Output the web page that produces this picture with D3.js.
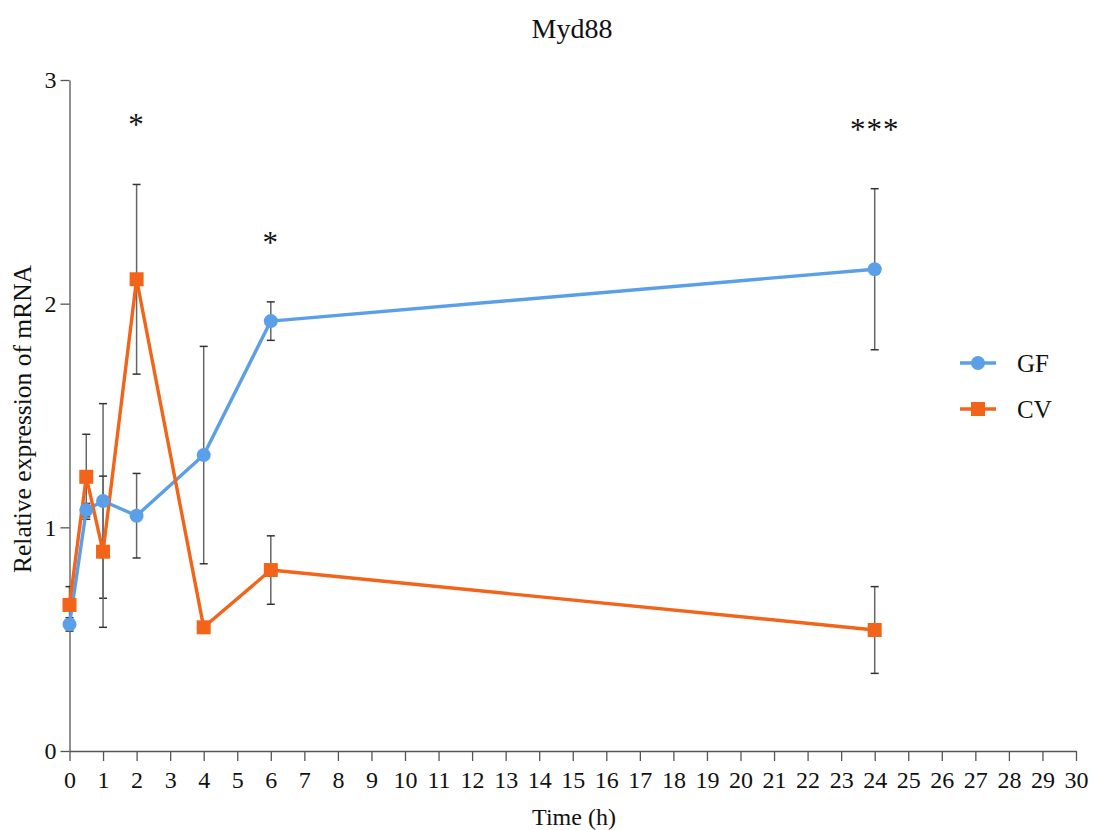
<!DOCTYPE html>
<html>
<head>
<meta charset="utf-8">
<script src="https://cdn.jsdelivr.net/npm/d3@7"></script>
<style>
  html, body { margin: 0; padding: 0; background: #fff; }
  svg text { font-family: "Liberation Serif", "DejaVu Serif", serif; }
</style>
</head>
<body>
<svg id="chart" width="1094" height="830"></svg>
<script>
// Sampling times (h)
const times = [0, 0.5, 1, 2, 4, 6, 24];

// Myd88 relative mRNA expression, mean and SD per group
const gfMean = [0.566, 1.077, 1.118, 1.052, 1.323, 1.922, 2.154];
const gfSD   = [0.03, 0.03, 0.435, 0.189, 0.486, 0.086, 0.36];
const cvMean = [0.653, 1.226, 0.891, 2.109, 0.553, 0.809, 0.541];
const cvSD   = [0.082, 0.19, 0.338, 0.424, 0.02, 0.153, 0.194];

// Significance marks between groups
const sigTimes  = [2, 6, 24];
const sigLabels = ["*", "*", "***"];

// Axis ticks
const xTicks = d3.range(0, 31);
const yTicks = [0, 1, 2, 3];

const seriesNames  = ["GF", "CV"];
const seriesColors = ["#5b9fe8", "#f26419"];

const FONT = '"Liberation Serif", "DejaVu Serif", serif';

const svg = d3.select("#chart");
const x = d3.scaleLinear().domain([0, 30]).range([69.5, 1076]);
const y = d3.scaleLinear().domain([0, 3]).range([751, 80]);

const series = [
  { name: seriesNames[0], color: seriesColors[0], shape: "circle",
    pts: times.map((t, i) => ({ t, m: gfMean[i], sd: gfSD[i] })) },
  { name: seriesNames[1], color: seriesColors[1], shape: "square",
    pts: times.map((t, i) => ({ t, m: cvMean[i], sd: cvSD[i] })) }
];

// Axes
const xAxis = svg.append("g")
  .attr("transform", `translate(0,${y(0)})`)
  .call(d3.axisBottom(x).tickValues(xTicks).tickSize(10).tickSizeOuter(0));
xAxis.selectAll("text").attr("y", 37).attr("dy", 0);

const yAxis = svg.append("g")
  .attr("transform", `translate(${x(0)},0)`)
  .call(d3.axisLeft(y).tickValues(yTicks).tickFormat(d3.format("d")).tickSize(9).tickSizeOuter(0).tickPadding(4));

[xAxis, yAxis].forEach(a => {
  a.attr("font-family", FONT).attr("font-size", 24);
  a.selectAll("text").attr("fill", "#111").style("font-family", FONT).style("font-size", "24px");
  a.select(".domain").attr("stroke", "#555").attr("stroke-width", 1.3);
  a.selectAll(".tick line").attr("stroke", "#555").attr("stroke-width", 1.3);
});

// Error bars
const cap = 4;
series.forEach(s => {
  const g = svg.append("g").attr("stroke", "#666").attr("stroke-width", 1.5).attr("fill", "none");
  s.pts.forEach(p => {
    const x0 = x(p.t), yt = y(p.m + p.sd), yb = y(p.m - p.sd);
    g.append("line").attr("x1", x0).attr("x2", x0).attr("y1", yt).attr("y2", yb);
    g.append("line").attr("x1", x0 - cap).attr("x2", x0 + cap).attr("y1", yt).attr("y2", yt).attr("stroke", "#333");
    g.append("line").attr("x1", x0 - cap).attr("x2", x0 + cap).attr("y1", yb).attr("y2", yb).attr("stroke", "#333");
  });
});

// Lines and markers
const line = d3.line().x(d => x(d.t)).y(d => y(d.m));
series.forEach(s => {
  svg.append("path").datum(s.pts)
    .attr("d", line).attr("fill", "none")
    .attr("stroke", s.color).attr("stroke-width", 3.4).attr("stroke-linejoin", "round");
});
series.forEach(s => {
  const g = svg.append("g").attr("fill", s.color);
  s.pts.forEach(p => {
    if (s.shape === "circle") {
      g.append("circle").attr("cx", x(p.t)).attr("cy", y(p.m)).attr("r", 7);
    } else {
      g.append("rect").attr("x", x(p.t) - 7).attr("y", y(p.m) - 7).attr("width", 14).attr("height", 14);
    }
  });
});

// Significance asterisks above the highest error bar
sigTimes.forEach((t, i) => {
  const i0 = times.indexOf(t);
  const top = Math.max(gfMean[i0] + gfSD[i0], cvMean[i0] + cvSD[i0]);
  svg.append("text")
    .attr("x", x(t)).attr("y", y(top) - 49)
    .attr("text-anchor", "middle")
    .style("font-size", "31px").style("letter-spacing", "1px").attr("fill", "#111")
    .text(sigLabels[i]);
});

// Legend
series.forEach((s, i) => {
  const ly = 363 + i * 46;
  svg.append("line").attr("x1", 960).attr("x2", 996).attr("y1", ly).attr("y2", ly)
    .attr("stroke", s.color).attr("stroke-width", 3.4);
  if (s.shape === "circle") {
    svg.append("circle").attr("cx", 978).attr("cy", ly).attr("r", 7).attr("fill", s.color);
  } else {
    svg.append("rect").attr("x", 971).attr("y", ly - 7).attr("width", 14).attr("height", 14).attr("fill", s.color);
  }
  svg.append("text").attr("x", 1017).attr("y", ly + 9)
    .style("font-size", "25px").attr("fill", "#111").text(s.name);
});

// Titles
svg.append("text").attr("x", 572).attr("y", 38).attr("text-anchor", "middle")
  .style("font-size", "28px").attr("fill", "#111").text("Myd88");
svg.append("text").attr("x", 574).attr("y", 825).attr("text-anchor", "middle")
  .style("font-size", "24px").attr("fill", "#111").text("Time (h)");
svg.append("text").attr("transform", "translate(31,419) rotate(-90)").attr("text-anchor", "middle")
  .style("font-size", "25.5px").attr("fill", "#111").text("Relative expression of mRNA");
</script>
</body>
</html>
